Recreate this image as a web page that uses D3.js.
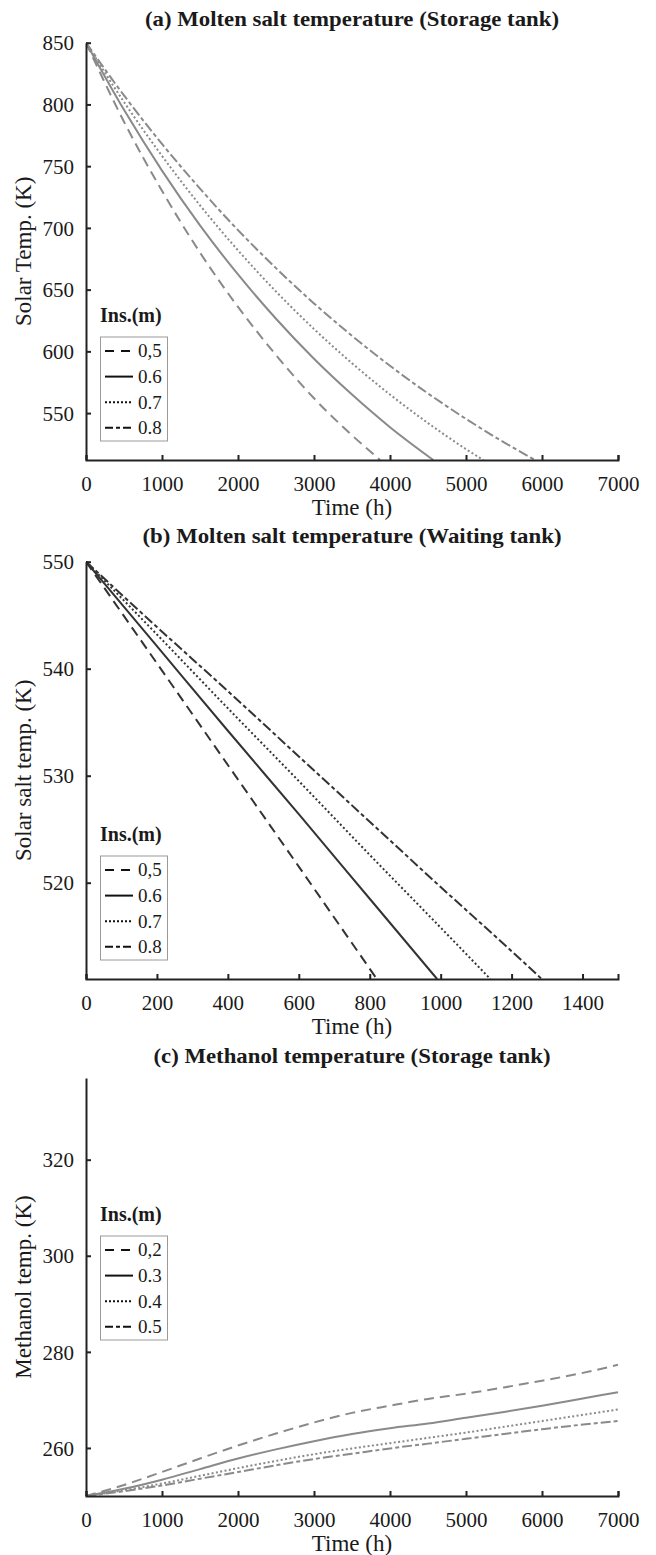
<!DOCTYPE html>
<html>
<head>
<meta charset="utf-8">
<script src="https://cdn.jsdelivr.net/npm/d3@7"></script>
<style>
  html, body { margin: 0; padding: 0; background: #fff; }
  svg { display: block; }
  svg text { font-family: "Liberation Serif", "Times New Roman", "DejaVu Serif", serif !important; fill: #1a1a1a; }
</style>
</head>
<body>
<svg id="fig" width="656" height="1555" font-family="Liberation Serif, Times New Roman, DejaVu Serif, serif"></svg>
<script>
// ---------- (a) Molten salt temperature, storage tank: [time h, temperature K] ----------
const ticksAx = [0, 1000, 2000, 3000, 4000, 5000, 6000, 7000];
const ticksAy = [550, 600, 650, 700, 750, 800, 850];
const insA = ["0,5", "0.6", "0.7", "0.8"];
const storage05 = [[0, 850], [500, 786], [1000, 730], [1500, 680], [2000, 636], [2500, 597], [3000, 562], [3500, 532], [3870, 512]];
const storage06 = [[0, 850], [500, 795.6], [1000, 746.4], [1500, 702], [2000, 662.3], [2500, 626.4], [3000, 594], [3500, 565], [4000, 538.6], [4570, 512]];
const storage07 = [[0, 850], [500, 802], [1000, 758.3], [1500, 718.3], [2000, 681.8], [2500, 648.5], [3000, 618.1], [3500, 590.4], [4000, 565], [4500, 541.9], [5000, 520.8], [5228, 512]];
const storage08 = [[0, 850], [500, 807.3], [1000, 768], [1500, 731.8], [2000, 698.2], [2500, 667.4], [3000, 638.8], [3500, 612.6], [4000, 588.3], [4500, 565.9], [5000, 545.3], [5500, 526.3], [5908, 512]];

// ---------- (b) Molten salt temperature, waiting tank ----------
const ticksBx = [0, 200, 400, 600, 800, 1000, 1200, 1400];
const ticksBy = [520, 530, 540, 550];
const insB = ["0,5", "0.6", "0.7", "0.8"];
const waiting05 = [[0, 550], [200, 540.5], [400, 531], [600, 521.5], [820, 511]];
const waiting06 = [[0, 550], [200, 542.1], [400, 534.2], [600, 526.4], [800, 518.5], [990, 511]];
const waiting07 = [[0, 550], [200, 543.2], [400, 536.3], [600, 529.5], [800, 522.6], [1000, 515.8], [1140, 511]];
const waiting08 = [[0, 550], [200, 543.9], [400, 537.9], [600, 531.8], [800, 525.7], [1000, 519.6], [1200, 513.6], [1285, 511]];

// ---------- (c) Methanol temperature, storage tank ----------
const ticksCx = [0, 1000, 2000, 3000, 4000, 5000, 6000, 7000];
const ticksCy = [260, 280, 300, 320];
const insC = ["0,2", "0.3", "0.4", "0.5"];
const methanol02 = [[0, 250], [500, 252.3], [1000, 255], [1500, 257.8], [2000, 260.5], [2500, 263], [3000, 265.3], [3500, 267.3], [4000, 268.8], [4500, 270.2], [5000, 271.3], [5500, 272.6], [6000, 274], [6500, 275.5], [7000, 277.3]];
const methanol03 = [[0, 250], [500, 251.5], [1000, 253.4], [1500, 255.6], [2000, 257.8], [2500, 259.7], [3000, 261.4], [3500, 262.9], [4000, 264.1], [4500, 265.1], [5000, 266.3], [5500, 267.5], [6000, 268.8], [6500, 270.2], [7000, 271.6]];
const methanol04 = [[0, 250], [500, 251.2], [1000, 252.6], [1500, 254.2], [2000, 255.8], [2500, 257.3], [3000, 258.7], [3500, 259.9], [4000, 261], [4500, 262.1], [5000, 263.2], [5500, 264.4], [6000, 265.6], [6500, 266.8], [7000, 268]];
const methanol05 = [[0, 250], [500, 251], [1000, 252.2], [1500, 253.6], [2000, 255], [2500, 256.4], [3000, 257.7], [3500, 258.8], [4000, 259.9], [4500, 260.9], [5000, 261.9], [5500, 262.9], [6000, 263.9], [6500, 264.8], [7000, 265.6]];

// Line styles shared by the four insulation thicknesses (dashed, solid, dotted, dash-dot)
const dashes = ["10,6", null, "2,2.4", "10,3,4,3"];
const legendDashes = ["9,7", null, "2,2", "8,3,4,3"];

const FONT = "Liberation Serif, Times New Roman, DejaVu Serif, serif";
const svg = d3.select("#fig");
svg.append("rect").attr("width", 656).attr("height", 1555).attr("fill", "#fff");

const X0 = 86, X1 = 618;

function drawPanel(p) {
  const g = svg.append("g").attr("font-family", FONT);
  const x = d3.scaleLinear().domain(p.xDomain).range([X0, X1]);
  const y = d3.scaleLinear().domain(p.yDomain).range([p.bottom, p.top]);

  // title
  g.append("text")
    .attr("x", 352).attr("y", p.titleY)
    .attr("text-anchor", "middle")
    .attr("font-weight", "bold").attr("font-size", 21)
    .attr("textLength", p.titleWidth).attr("lengthAdjust", "spacingAndGlyphs")
    .text(p.title);

  // clip to plot area
  const clipId = "clip-" + p.key;
  svg.append("clipPath").attr("id", clipId)
    .append("rect").attr("x", X0).attr("y", p.top - 2)
    .attr("width", X1 - X0 + 2).attr("height", p.bottom - p.top + 2);

  // series
  const line = d3.line().x(d => x(d[0])).y(d => y(d[1])).curve(d3.curveMonotoneX);
  const lines = g.append("g").attr("clip-path", `url(#${clipId})`);
  p.series.forEach((s, i) => {
    lines.append("path")
      .attr("d", line(s))
      .attr("fill", "none")
      .attr("stroke", p.color)
      .attr("stroke-width", 2)
      .attr("stroke-dasharray", dashes[i]);
  });

  // axes
  const xAxis = d3.axisBottom(x).tickValues(p.xTicks).tickSizeInner(-5).tickSizeOuter(-5).tickPadding(12)
    .tickFormat(d3.format("d"));
  const gx = g.append("g").attr("transform", `translate(0,${p.bottom})`).call(xAxis);
  const yAxis = d3.axisLeft(y).tickValues(p.yTicks).tickSizeInner(-5).tickSizeOuter(0).tickPadding(12)
    .tickFormat(d3.format("d"));
  const gy = g.append("g").attr("transform", `translate(${X0},0)`).call(yAxis);

  [gx, gy].forEach(ax => {
    ax.attr("font-family", FONT);
    ax.select(".domain").attr("stroke", "#222").attr("stroke-width", 2);
    ax.selectAll(".tick line").attr("stroke", "#222").attr("stroke-width", 2);
    ax.selectAll(".tick text").attr("font-size", 21).attr("fill", "#1a1a1a");
  });
  gx.selectAll(".tick text").attr("dy", null).attr("y", 31);
  gy.selectAll(".tick text").attr("dy", "0.34em").attr("x", -12);

  // axis titles
  g.append("text")
    .attr("x", 352).attr("y", p.bottom + 55)
    .attr("text-anchor", "middle").attr("font-size", 23).attr("fill", "#2a2a2a")
    .text("Time (h)");
  g.append("text")
    .attr("transform", `translate(31,${(p.top + p.bottom) / 2}) rotate(-90)`)
    .attr("text-anchor", "middle").attr("font-size", 23).attr("fill", "#2a2a2a")
    .text(p.yLabel);

  // legend
  const lg = g.append("g");
  lg.append("text")
    .attr("x", 100).attr("y", p.legendTop - 15)
    .attr("font-weight", "bold").attr("font-size", 20)
    .text("Ins.(m)");
  lg.append("rect")
    .attr("x", 100.5).attr("y", p.legendTop)
    .attr("width", 67).attr("height", 104)
    .attr("fill", "#fff").attr("stroke", "#9a9a9a").attr("stroke-width", 1);
  p.labels.forEach((lab, i) => {
    const cy = p.legendTop + 14 + i * 25.6;
    lg.append("line")
      .attr("x1", 105).attr("x2", 133).attr("y1", cy).attr("y2", cy)
      .attr("stroke", "#111").attr("stroke-width", 2)
      .attr("stroke-dasharray", legendDashes[i]);
    lg.append("text")
      .attr("x", 138).attr("y", cy).attr("dy", "0.34em")
      .attr("font-size", 19)
      .text(lab);
  });
}

drawPanel({
  key: "a", title: "(a) Molten salt temperature (Storage tank)", titleY: 26, titleWidth: 414,
  top: 42.7, bottom: 460, xDomain: [0, 7000], yDomain: [512, 850],
  xTicks: ticksAx, yTicks: ticksAy, yLabel: "Solar Temp. (K)",
  series: [storage05, storage06, storage07, storage08], labels: insA,
  color: "#8a8a8a", legendTop: 337
});

drawPanel({
  key: "b", title: "(b) Molten salt temperature (Waiting tank)", titleY: 543, titleWidth: 419,
  top: 561.7, bottom: 979, xDomain: [0, 1500], yDomain: [511, 550],
  xTicks: ticksBx, yTicks: ticksBy, yLabel: "Solar salt temp. (K)",
  series: [waiting05, waiting06, waiting07, waiting08], labels: insB,
  color: "#333", legendTop: 856
});

drawPanel({
  key: "c", title: "(c) Methanol temperature (Storage tank)", titleY: 1063, titleWidth: 397,
  top: 1078, bottom: 1496, xDomain: [0, 7000], yDomain: [250, 337],
  xTicks: ticksCx, yTicks: ticksCy, yLabel: "Methanol temp. (K)",
  series: [methanol02, methanol03, methanol04, methanol05], labels: insC,
  color: "#8a8a8a", legendTop: 1236
});
</script>
</body>
</html>
